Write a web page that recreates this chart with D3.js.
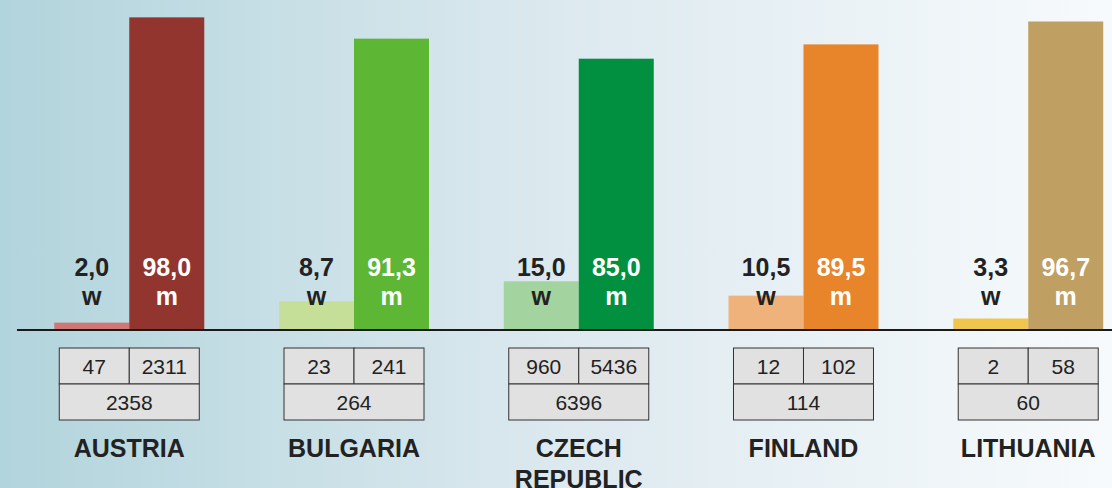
<!DOCTYPE html>
<html>
<head>
<meta charset="utf-8">
<script src="https://cdn.jsdelivr.net/npm/d3@7"></script>
<style>
  body { margin: 0; padding: 0; overflow: hidden; }
  svg { display: block; font-family: "Liberation Sans", Arial, sans-serif; }
</style>
</head>
<body>
<svg width="1112" height="488"></svg>
<script>
// chart values
var countries = ['AUSTRIA', 'BULGARIA', 'CZECH REPUBLIC', 'FINLAND', 'LITHUANIA'];
var womenShare = [2.0, 8.7, 15.0, 10.5, 3.3];
var menShare = [98.0, 91.3, 85.0, 89.5, 96.7];
var womenCount = [47, 23, 960, 12, 2];
var menCount = [2311, 241, 5436, 102, 58];
var totalCount = [2358, 264, 6396, 114, 60];
var womenColors = ['#d07676', '#c6df98', '#a3d39e', '#f0b27b', '#f1c64c'];
var menColors = ['#93352f', '#5eb635', '#00903f', '#e88429', '#bfa062'];

var svg = d3.select('svg');
var svgWidth = +svg.attr('width');
var svgHeight = +svg.attr('height');

var baseY = 329;

// background gradient
var defs = svg.append('defs');
var grad = defs.append('linearGradient')
    .attr('id', 'bg')
    .attr('x1', '0%').attr('x2', '100%')
    .attr('y1', '0%').attr('y2', '0%');
grad.append('stop').attr('offset', '0%').attr('stop-color', '#b2d4dc');
grad.append('stop').attr('offset', '50%').attr('stop-color', '#dce9ef');
grad.append('stop').attr('offset', '100%').attr('stop-color', '#f7fafc');

svg.append('rect')
    .attr('width', svgWidth)
    .attr('height', svgHeight)
    .attr('fill', 'url(#bg)');

var rows = countries.map(function(c, i) {
    return {
        country: c,
        w: womenShare[i], m: menShare[i],
        wn: womenCount[i], mn: menCount[i], tn: totalCount[i],
        wc: womenColors[i], mc: menColors[i]
    };
});

// one band per country, each split into w / m bars
var x = d3.scaleBand()
    .domain(countries)
    .range([16.9, 1140.6])
    .paddingInner(0.3326)
    .paddingOuter(0.1663);

var sub = d3.scaleBand()
    .domain(['w', 'm'])
    .range([0, x.bandwidth()]);

var y = d3.scaleLinear()
    .domain([0, 100])
    .range([baseY, baseY - 318]);

var groups = svg.selectAll('.group')
    .data(rows)
    .enter()
    .append('g')
    .attr('class', 'group')
    .attr('transform', function(d) { return 'translate(' + x(d.country) + ',0)'; });

// women bars
groups.append('rect')
    .attr('x', sub('w'))
    .attr('width', sub.bandwidth())
    .attr('y', function(d) { return y(d.w); })
    .attr('height', function(d) { return baseY - y(d.w); })
    .attr('fill', function(d) { return d.wc; });

// men bars
groups.append('rect')
    .attr('x', sub('m'))
    .attr('width', sub.bandwidth())
    .attr('y', function(d) { return y(d.m); })
    .attr('height', function(d) { return baseY - y(d.m); })
    .attr('fill', function(d) { return d.mc; });

var fmt = function(v) { return d3.format('.1f')(v).replace('.', ','); };

// value labels
groups.append('text')
    .attr('x', sub('w') + sub.bandwidth() / 2)
    .attr('y', 276)
    .attr('text-anchor', 'middle')
    .style('font-size', '25px').style('font-weight', 'bold')
    .attr('fill', '#222')
    .text(function(d) { return fmt(d.w); });
groups.append('text')
    .attr('x', sub('w') + sub.bandwidth() / 2)
    .attr('y', 305)
    .attr('text-anchor', 'middle')
    .style('font-size', '25px').style('font-weight', 'bold')
    .attr('fill', '#222')
    .text('w');
groups.append('text')
    .attr('x', sub('m') + sub.bandwidth() / 2)
    .attr('y', 276)
    .attr('text-anchor', 'middle')
    .style('font-size', '25px').style('font-weight', 'bold')
    .attr('fill', '#fff')
    .text(function(d) { return fmt(d.m); });
groups.append('text')
    .attr('x', sub('m') + sub.bandwidth() / 2)
    .attr('y', 305)
    .attr('text-anchor', 'middle')
    .style('font-size', '25px').style('font-weight', 'bold')
    .attr('fill', '#fff')
    .text('m');

// baseline
svg.append('line')
    .attr('x1', 17).attr('x2', svgWidth)
    .attr('y1', baseY + 1).attr('y2', baseY + 1)
    .attr('stroke', '#1a1a1a')
    .attr('stroke-width', 2);

// count tables
var tw = 140, th = 36;
var table = groups.append('g')
    .attr('transform', function() { return 'translate(' + (x.bandwidth() / 2 - tw / 2) + ',348)'; });

table.append('rect')
    .attr('x', 0).attr('y', 0).attr('width', tw / 2).attr('height', th)
    .attr('fill', '#e1e1e1').attr('stroke', '#333').attr('stroke-width', 1);
table.append('rect')
    .attr('x', tw / 2).attr('y', 0).attr('width', tw / 2).attr('height', th)
    .attr('fill', '#e1e1e1').attr('stroke', '#333').attr('stroke-width', 1);
table.append('rect')
    .attr('x', 0).attr('y', th).attr('width', tw).attr('height', th)
    .attr('fill', '#e1e1e1').attr('stroke', '#333').attr('stroke-width', 1);

table.append('text')
    .attr('x', tw / 4).attr('y', 26)
    .attr('text-anchor', 'middle')
    .style('font-size', '21px').attr('fill', '#222')
    .text(function(d) { return d.wn; });
table.append('text')
    .attr('x', tw * 3 / 4).attr('y', 26)
    .attr('text-anchor', 'middle')
    .style('font-size', '21px').attr('fill', '#222')
    .text(function(d) { return d.mn; });
table.append('text')
    .attr('x', tw / 2).attr('y', 62)
    .attr('text-anchor', 'middle')
    .style('font-size', '21px').attr('fill', '#222')
    .text(function(d) { return d.tn; });

// country names, split on space only for the two word one
groups.append('text')
    .attr('x', x.bandwidth() / 2)
    .attr('y', 457)
    .attr('text-anchor', 'middle')
    .style('font-size', '25px').style('font-weight', 'bold')
    .attr('fill', '#222')
    .selectAll('tspan')
    .data(function(d) { return d.country.split(' '); })
    .enter()
    .append('tspan')
    .attr('x', x.bandwidth() / 2)
    .attr('dy', function(d, i) { return i === 0 ? 0 : 31; })
    .text(function(d) { return d; });
</script>
</body>
</html>
